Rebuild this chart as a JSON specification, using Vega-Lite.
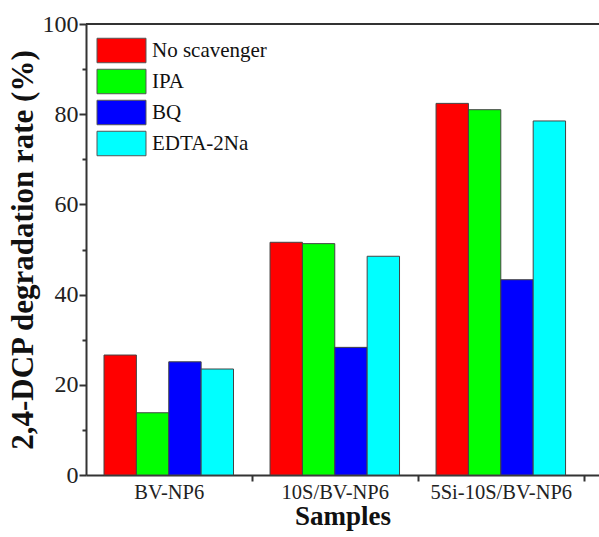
{
  "$schema": "https://vega.github.io/schema/vega-lite/v6.json",
  "autosize": {"type": "none"},
  "padding": {"left": 86, "top": 24, "right": 0, "bottom": 62},
  "width": 513,
  "height": 451,
  "background": "white",
  "config": {
    "view": {"stroke": null},
    "font": "Liberation Serif",
    "axis": {
      "domainColor": "#333333",
      "domainWidth": 2,
      "tickColor": "#333333",
      "tickWidth": 2,
      "labelFont": "Liberation Serif",
      "labelColor": "#222222",
      "titleFont": "Liberation Serif",
      "titleFontWeight": "bold",
      "titleColor": "#111111",
      "grid": false
    },
    "legend": {
      "labelFont": "Liberation Serif",
      "labelColor": "#111111"
    }
  },
  "data": {
    "values": [
      {"sample": "BV-NP6", "scavenger": "No scavenger", "rate": 26.6},
      {"sample": "BV-NP6", "scavenger": "IPA", "rate": 13.8},
      {"sample": "BV-NP6", "scavenger": "BQ", "rate": 25.1},
      {"sample": "BV-NP6", "scavenger": "EDTA-2Na", "rate": 23.5},
      {"sample": "10S/BV-NP6", "scavenger": "No scavenger", "rate": 51.6},
      {"sample": "10S/BV-NP6", "scavenger": "IPA", "rate": 51.3},
      {"sample": "10S/BV-NP6", "scavenger": "BQ", "rate": 28.3},
      {"sample": "10S/BV-NP6", "scavenger": "EDTA-2Na", "rate": 48.5},
      {"sample": "5Si-10S/BV-NP6", "scavenger": "No scavenger", "rate": 82.4},
      {"sample": "5Si-10S/BV-NP6", "scavenger": "IPA", "rate": 81.0},
      {"sample": "5Si-10S/BV-NP6", "scavenger": "BQ", "rate": 43.3},
      {"sample": "5Si-10S/BV-NP6", "scavenger": "EDTA-2Na", "rate": 78.5}
    ]
  },
  "layer": [
    {
      "mark": {"type": "bar", "stroke": "#444444", "strokeWidth": 1},
      "encoding": {
        "x": {
          "field": "sample",
          "type": "nominal",
          "sort": ["BV-NP6", "10S/BV-NP6", "5Si-10S/BV-NP6"],
          "scale": {"paddingInner": 0.22, "paddingOuter": 0.155, "align": 0.35},
          "axis": {
            "title": "Samples",
            "titleFontSize": 27,
            "titlePadding": 1,
            "labelFontSize": 20.5,
            "labelAngle": 0,
            "labelPadding": 1,
            "ticks": true,
            "tickSize": 6,
            "tickOffset": 83,
            "labelOffset": -83
          }
        },
        "xOffset": {
          "field": "scavenger",
          "type": "nominal",
          "sort": ["No scavenger", "IPA", "BQ", "EDTA-2Na"],
          "scale": {"paddingInner": 0, "paddingOuter": 0}
        },
        "y": {
          "field": "rate",
          "type": "quantitative",
          "scale": {"domain": [0, 100], "nice": false},
          "axis": {
            "title": "2,4-DCP degradation rate (%)",
            "titleFontSize": 31,
            "titlePadding": 3,
            "values": [0, 10, 20, 30, 40, 50, 60, 70, 80, 90, 100],
            "labelExpr": "datum.value % 20 === 0 ? datum.label : ''",
            "labelFontSize": 24,
            "labelPadding": 1,
            "tickSize": {"condition": {"test": "datum.value % 20 === 0", "value": 7}, "value": 4}
          }
        },
        "color": {
          "field": "scavenger",
          "type": "nominal",
          "sort": ["No scavenger", "IPA", "BQ", "EDTA-2Na"],
          "scale": {
            "domain": ["No scavenger", "IPA", "BQ", "EDTA-2Na"],
            "range": ["#ff0000", "#00ff00", "#0000ff", "#00ffff"]
          },
          "legend": {
            "title": null,
            "orient": "none",
            "legendX": 22.5,
            "legendY": 13.5,
            "padding": 0,
            "symbolType": "M-2,-1H2V1H-2Z",
            "symbolSize": 600,
            "symbolStrokeColor": "#555555",
            "symbolStrokeWidth": 1,
            "symbolOpacity": 1,
            "rowPadding": 1,
            "labelFontSize": 21,
            "labelOffset": 17.5,
            "labelLimit": 300
          }
        }
      }
    },
    {
      "mark": {"type": "rule", "color": "#333333", "strokeWidth": 2},
      "encoding": {"y": {"datum": 100}}
    }
  ]
}
